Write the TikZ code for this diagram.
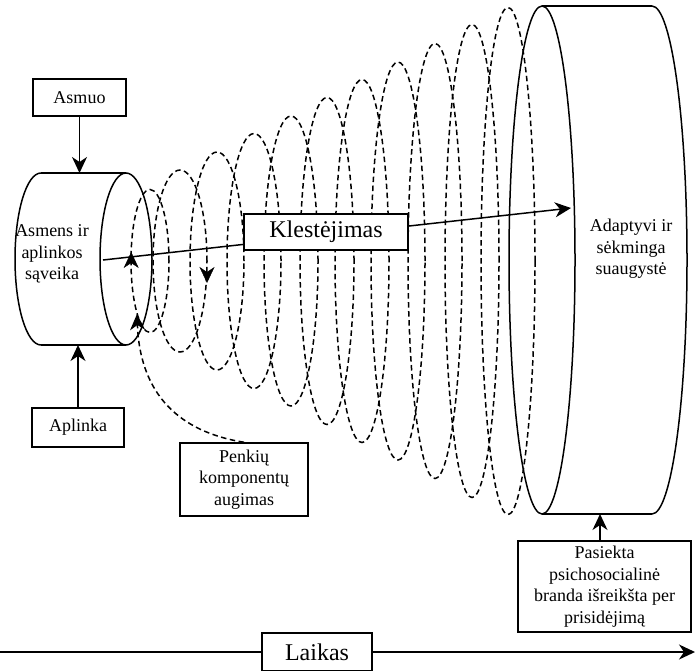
\documentclass[tikz,border=0pt]{standalone}
\usepackage{fontspec}
\setmainfont{Liberation Serif}[Ligatures=TeX]
\newfontfamily\tnr{Liberation Serif}
\usetikzlibrary{arrows.meta}
\begin{document}
\begin{tikzpicture}[x=1pt,y=1pt,
  ln/.style={line width=1.5pt},
  dsh/.style={line width=1.5pt, dash pattern=on 5.5pt off 3.5pt},
  tipsty/.style={-{Stealth[length=16pt,width=15pt,inset=5pt]}},
  lbl/.style={font=\tnr\fontsize{18}{21.5}\selectfont, align=center, inner sep=0pt},
  box/.style={draw, line width=1.5pt, fill=white, font=\tnr\fontsize{18}{21.5}\selectfont, align=center, inner sep=0pt},
  bigbox/.style={draw, line width=1.5pt, fill=white, font=\tnr\fontsize{24}{28}\selectfont, inner sep=0pt}
]
\useasboundingbox (0,0) rectangle (695,-670);

% left cylinder
\draw[ln] (41,-173) -- (126,-173) (41,-345) -- (126,-345);
\draw[ln] (41,-173) arc[start angle=90,end angle=270,x radius=26,y radius=86];
\draw[ln] (126,-259) ellipse[x radius=26,y radius=86];
\node[lbl] (lc) at (52,-254) {Asmens ir\\aplinkos\\sąveika};
\coordinate (lctop) at (79,-173);
\coordinate (lcbot) at (79,-345);

% right cylinder
\draw[ln] (542,-6) -- (652,-6) (542,-514) -- (652,-514);
\draw[ln] (542,-260) ellipse[x radius=33,y radius=254];
\draw[ln] (652,-6) arc[start angle=90,end angle=-90,x radius=35,y radius=254];
\node[lbl] (rc) at (631,-249) {Adaptyvi ir\\sėkminga\\suaugystė};
\coordinate (rcbot) at (600,-514);

% spiral loops
\draw[dsh] (150,-261) ellipse[x radius=19,y radius=71.5];
\foreach \cx/\ry in {180/91,217/109,254/127.5,291/145,327/163.5,362/181.5,398/199,435/217.5,472/236.5,508/253.5}
  \draw[dsh] (\cx,-261) ellipse[x radius=27,y radius=\ry];

% spiral arrowheads
\coordinate (a1s) at (131.2,-262); \coordinate (a1e) at (131.2,-252);
\coordinate (a2s) at (207,-273); \coordinate (a2e) at (207,-283);
\draw[tipsty] (a1s) -- (a1e);
\draw[tipsty] (a2s) -- (a2e);

% boxes
\node[box, minimum width=93pt, minimum height=37pt] (asm) at (79.5,-97.5) {Asmuo};
\node[box, minimum width=92pt, minimum height=39pt] (apl) at (78,-427.5) {Aplinka};
\node[box, minimum width=128pt, minimum height=73pt] (pen) at (244,-479.5) {Penkių\\komponentų\\augimas};
\node[box, minimum width=173pt, minimum height=91pt] (pas) at (604.5,-586.5) {Pasiekta\\psichosocialinė\\branda išreikšta per\\prisidėjimą};

% connectors to cylinders
\draw[ln,tipsty] (asm.south) -- (asm.south |- lctop);
\draw[ln,tipsty] (apl.north) -- (apl.north |- lcbot);
\draw[ln,tipsty] (pas.north -| rcbot) -- (rcbot);
\draw[dsh,tipsty] (pen.north) .. controls (180,-432) and (140,-395) .. (137,-314);

% main flourishing arrow
\coordinate (ks) at (103,-260);
\coordinate (ke) at (571,-208);
\draw[ln,tipsty] (ks) -- (ke);
\node[bigbox, minimum width=164pt, minimum height=36pt] (kl) at (326,-232) {Klestėjimas};

% time axis
\coordinate (ts) at (0,-652);
\coordinate (te) at (695,-652);
\draw[ln,tipsty] (ts) -- (te);
\node[bigbox, minimum width=110pt, minimum height=38pt] (lk) at (317,-652) {Laikas};
\end{tikzpicture}
\end{document}
